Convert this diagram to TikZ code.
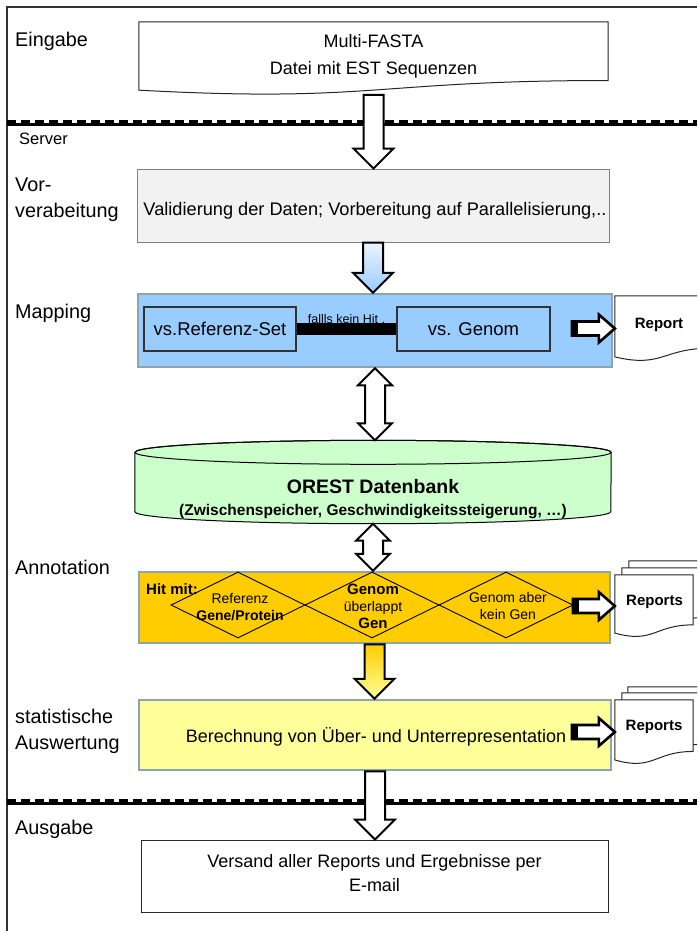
\documentclass[tikz,border=0pt]{standalone}
\usepackage{fontspec}
\setmainfont{Liberation Sans}
\usetikzlibrary{calc,shapes.geometric}

\definecolor{vorgray}{HTML}{F2F2F2}
\definecolor{mapblue}{HTML}{99CCFF}
\definecolor{dbgreen}{HTML}{CCFFCC}
\definecolor{annotgold}{HTML}{FFCC00}
\definecolor{statyellow}{HTML}{FFFF99}
\definecolor{panelrim}{HTML}{8FA5AE}

\newcommand\fsz[2]{\fontsize{#1}{#2}\selectfont}

% document symbol with a wavy lower edge, drawn around an empty node
\newcommand\docoutline[1]{%
  \path[docline] (#1.north west) -- (#1.north east)
    -- ($(#1.north east)!0.802!(#1.south east)$)
    .. controls ($(#1.north)!0.802!(#1.south)$) and ($(#1.north)!1.1075!(#1.south)$) ..
    ($(#1.north west)!0.934!(#1.south west)$) -- cycle;}

% hollow block arrow pointing down from #2 to #3
\newcommand\blockdown[3][]{%
  \path[blockarrow,#1] let \p1=(#2), \p2=(#3) in
    (\x1-10pt,\y1) -- (\x1-10pt,\y2+20pt) -- (\x1-20pt,\y2+20pt) -- (\x1,\y2)
    -- (\x1+20pt,\y2+20pt) -- (\x1+10pt,\y2+20pt) -- (\x1+10pt,\y1) -- cycle;}

% hollow block arrow with heads at both ends, from #1 (top) to #2 (bottom)
\newcommand\blockboth[2]{%
  \path[blockarrow] let \p1=(#1), \p2=(#2) in
    (\x1,\y1) -- (\x1+17pt,\y1-17pt) -- (\x1+10pt,\y1-17pt) -- (\x1+10pt,\y2+17pt)
    -- (\x1+17pt,\y2+17pt) -- (\x1,\y2) -- (\x1-17pt,\y2+17pt) -- (\x1-10pt,\y2+17pt)
    -- (\x1-10pt,\y1-17pt) -- (\x1-17pt,\y1-17pt) -- cycle;}

% short block arrow to the right, with a solid tail
\newcommand\blockright[2]{%
  \path[blockarrow,line width=2.6pt] let \p1=(#1), \p2=(#2) in
    (\x1,\y2+7pt) -- (\x2-16pt,\y2+7pt) -- (\x2-16pt,\y2+14pt) -- (\x2,\y2)
    -- (\x2-16pt,\y2-14pt) -- (\x2-16pt,\y2-7pt) -- (\x1,\y2-7pt) -- cycle;
  \fill let \p1=(#1), \p2=(#2) in (\x1,\y2-7pt) rectangle (\x1+6pt,\y2+7pt);}

\begin{document}
\begin{tikzpicture}[x=1pt,y=-1pt,
  lbl/.style={anchor=west,align=left,inner sep=0pt,font=\fsz{19.8}{26}},
  boxtxt/.style={align=center,inner sep=0pt,font=\fsz{18}{27}},
  docspace/.style={rectangle,draw=none,inner sep=0pt},
  docline/.style={draw=black!85,line width=1pt,fill=white},
  panel/.style={rectangle,inner sep=0pt},
  rimpanel/.style={panel,draw=panelrim,line width=2.5pt},
  innerbox/.style={rectangle,draw=black!80,line width=1.1pt,fill=mapblue,inner sep=0pt,font=\fsz{18.5}{21}},
  decision/.style={diamond,draw=black,line width=0.9pt,inner sep=0pt},
  dtext/.style={align=center,inner sep=0pt,font=\fsz{14}{17}},
  reptxt/.style={inner sep=0pt,font=\bfseries\fsz{15}{17}},
  blockarrow/.style={draw=black,line width=2pt,fill=white,line join=miter},
  frameline/.style={draw=black!80,line width=1.3pt}]

\useasboundingbox (0,0) rectangle (697,931);
\clip (0,0) rectangle (697,931);

% outer frame and the two server boundaries
\draw[frameline] (7,931) -- (7,7) -- (697,7);
\draw[line width=2.6pt] (7,124.5) -- (697,124.5);
\draw[line width=2.2pt,dash pattern=on 9pt off 5pt] (7,121.5) -- (697,121.5);
\draw[line width=2.6pt] (7,803.5) -- (697,803.5);
\draw[line width=2.2pt,dash pattern=on 9pt off 5pt] (7,800.5) -- (697,800.5);

% stage labels
\node[lbl] (lEin) at (15,41) {Eingabe};
\node[lbl,font=\fsz{16.5}{19}] (lSrv) at (19,139) {Server};
\node[lbl] (lVor) at (15,200) {Vor-\\verabeitung};
\node[lbl] (lMap) at (15,313) {Mapping};
\node[lbl] (lAnn) at (15,567) {Annotation};
\node[lbl] (lStat) at (15,731) {statistische\\Auswertung};
\node[lbl] (lAus) at (15,829) {Ausgabe};

% input
\node[docspace,minimum width=469pt,minimum height=72.8pt] (indoc) at (373.5,58.4) {};
\docoutline{indoc}
\node[boxtxt] (intext) at (373.5,56) {Multi-FASTA\\Datei mit EST Sequenzen};

% preprocessing
\node[panel,fill=vorgray,draw=black!50,line width=1pt,minimum width=472pt,minimum height=73pt] (vor) at (373,205.5) {};
\node[boxtxt,font=\fsz{18.2}{22}] (vortext) at (375,211) {Validierung der Daten; Vorbereitung auf Parallelisierung,..};

% mapping
\node[rimpanel,fill=mapblue,minimum width=474pt,minimum height=73pt] (mapping) at (375,330.5) {};
\node[innerbox,minimum width=152pt,minimum height=44pt] (refset) at (220,329) {vs.Referenz-Set};
\node[innerbox,minimum width=153pt,minimum height=44pt] (genom) at (473.5,329) {vs. Genom};
\draw[line width=12pt] (refset.east) -- (genom.west)
  node[midway,anchor=base,yshift=6pt,inner sep=0pt,font=\fsz{12.5}{14}] (nohit) {fallls kein Hit .};

\node[docspace,minimum width=95pt,minimum height=65pt] (rep1) at (662.5,328.5) {};
\docoutline{rep1}
\node[reptxt] (rep1t) at (659,325) {Report};
\coordinate (mapout) at (572,330);
\blockright{mapout}{rep1.west}

% database
\node[docspace,minimum width=476pt,minimum height=83pt] (db) at (373,482) {};
\path[draw=black,line width=1pt,fill=dbgreen]
  ([yshift=-12pt]db.north west) -- ([yshift=12pt]db.south west)
  arc[start angle=180,end angle=0,x radius=238,y radius=12]
  -- ([yshift=-12pt]db.north east)
  arc[start angle=0,end angle=-180,x radius=238,y radius=12] -- cycle;
\draw[line width=1pt] ([yshift=-12pt]db.north) ellipse[x radius=238,y radius=12];
\node[inner sep=0pt,font=\bfseries\fsz{19.5}{22}] (dbtitle) at (373,487) {OREST Datenbank};
\node[inner sep=0pt,font=\bfseries\fsz{15.5}{18}] (dbsub) at (373,512) {(Zwischenspeicher, Geschwindigkeitssteigerung, …)};

% annotation
\node[rimpanel,fill=annotgold,minimum width=471pt,minimum height=71pt] (annot) at (374.5,607.5) {};
\node[decision,minimum width=134pt,minimum height=66pt] (d1) at (238,605) {};
\node[decision,minimum width=134pt,minimum height=66pt] (d2) at (372,605) {};
\node[decision,minimum width=134pt,minimum height=66pt] (d3) at (506,605) {};
\node[dtext] (d1t) at (240,607) {Referenz\\\textbf{Gene/Protein}};
\node[dtext] (d2t) at (373,606) {\textbf{\fsz{15}{17}Genom}\\überlappt\\\textbf{\fsz{15}{17}Gen}};
\node[dtext] (d3t) at (508,606) {Genom aber\\kein Gen};
\node[anchor=west,inner sep=0pt,font=\bfseries\fsz{15}{17}] (hitmit) at (146,589) {Hit mit:};

\node[docspace,minimum width=78pt,minimum height=62pt] (rep2c) at (668,592) {};
\docoutline{rep2c}
\node[docspace,minimum width=78pt,minimum height=62pt] (rep2b) at (661,599) {};
\docoutline{rep2b}
\node[docspace,minimum width=78pt,minimum height=62pt] (rep2a) at (654,606) {};
\docoutline{rep2a}
\node[reptxt] (rep2t) at (654.5,602) {Reports};
\coordinate (annout) at (573,608);
\blockright{annout}{rep2a.west}

% statistics
\node[rimpanel,fill=statyellow,minimum width=472pt,minimum height=70pt] (stat) at (375,735) {};
\node[boxtxt] (stattext) at (376,737) {Berechnung von Über- und Unterrepresentation};

\node[docspace,minimum width=78pt,minimum height=64pt] (rep3c) at (667,719) {};
\docoutline{rep3c}
\node[docspace,minimum width=78pt,minimum height=64pt] (rep3b) at (661,725) {};
\docoutline{rep3b}
\node[docspace,minimum width=78pt,minimum height=64pt] (rep3a) at (654,732) {};
\docoutline{rep3a}
\node[reptxt] (rep3t) at (654,727) {Reports};
\coordinate (statout) at (572,730);
\blockright{statout}{rep3a.west}

% output
\node[panel,fill=white,draw=black!85,line width=1pt,minimum width=467pt,minimum height=72pt] (out) at (374.5,876) {};
\node[boxtxt,font=\fsz{18}{24}] (outtext) at (374.5,873) {Versand aller Reports und Ergebnisse per\\E-mail};

% flow between the stages
\blockdown{indoc.south}{vor.north}
\blockdown[top color=mapblue!20,bottom color=mapblue]{vor.south}{mapping.north}
\blockboth{mapping.south}{db.north}
\blockboth{db.south}{annot.north}
\blockdown[top color=annotgold,bottom color=statyellow]{annot.south}{stat.north}
\blockdown{stat.south}{out.north}
\end{tikzpicture}
\end{document}
